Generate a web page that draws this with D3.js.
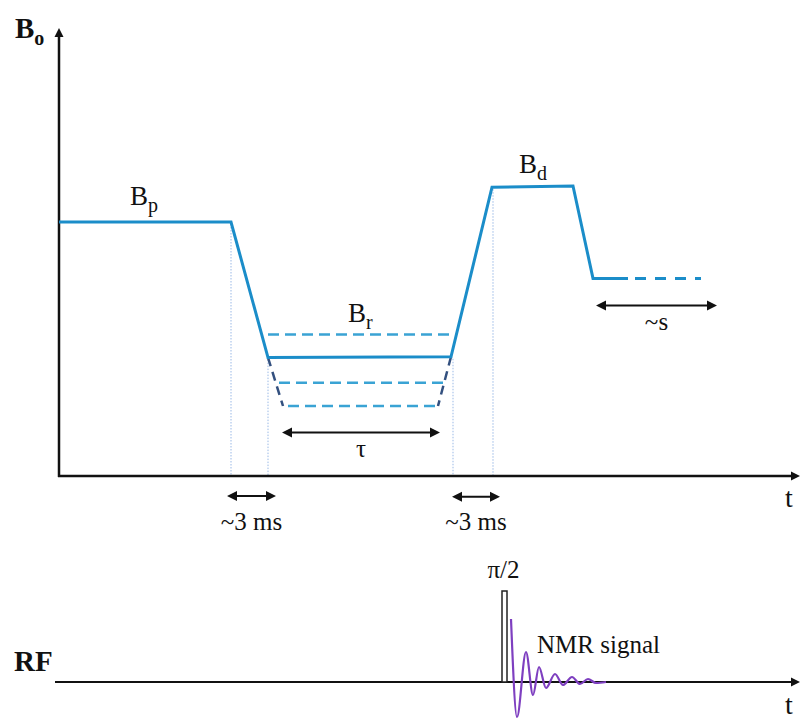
<!DOCTYPE html>
<html><head><meta charset="utf-8">
<script src="https://cdn.jsdelivr.net/npm/d3@7"></script>
<style>html,body{margin:0;padding:0;background:#fff}svg{display:block}</style>
</head><body>
<script>
// ---------- data ----------
const fieldTime  = [0, 17.2, 20.9, 39.2, 43.3, 51.4, 53.4, 56.9];
const fieldValue = [63.5, 63.5, 29.6, 29.8, 72.2, 72.5, 49.4, 49.4];
const tailTime   = [56.9, 64.2];
const tailValue  = [49.4, 49.4];
const brAltLevels = [35.4, 23.3, 17.5];
const brAltStart  = [20.9, 22.0, 22.9];
const brAltEnd    = [39.6, 38.6, 37.8];
const slantLeftTime = [20.9, 22.4], slantLeftValue = [29.6, 17.5];
const slantRightTime = [39.2, 37.9], slantRightValue = [29.8, 17.5];
const markerTimes  = [17.2, 20.9, 39.4, 43.4];
const markerLevels = [63.5, 29.6, 29.8, 72.2];
const spanLabels = ["τ", "~3 ms", "~3 ms", "~s"];
const spanFrom   = [22.3, 16.8, 39.3, 53.7];
const spanTo     = [38.1, 21.7, 44.1, 65.8];
const spanLevel  = [10.9, -5.0, -5.2, 42.6];
const spanTextLevel = [4.7, -13.5, -13.5, 36.5];
const pulseStart = 44.3, pulseEnd = 44.8, pulseAmp = 91;
const sigTime = [45.2, 45.8, 46.7, 47.4, 48.0, 48.7, 49.6, 50.4, 51.3, 52.1, 52.9, 53.7, 54.7];
const sigAmp  = [63, -35, 30, -13, 15, -6, 8, -3, 5, -2, 3, -1, 0];

// ---------- setup ----------
const W = 800, H = 720;
const svg = d3.select("body").append("svg").attr("width", W).attr("height", H);
const x = d3.scaleLinear().domain([0, 74]).range([59, 799]);
const y = d3.scaleLinear().domain([0, 112]).range([476, 28]);
const yRF = d3.scaleLinear().domain([0, 100]).range([682, 582]);
const FONT = "'Liberation Serif', 'DejaVu Serif', serif";
const mainBlue = "#1b8dc9", dashBlue = "#3aa3d4", darkDash = "#33507f", dotBlue = "#9ab9e6", purple = "#7e3fc0";
const line = d3.line();

// vertical dotted markers
markerTimes.forEach((t, i) => {
  svg.append("line").attr("x1", x(t)).attr("x2", x(t))
    .attr("y1", y(markerLevels[i]) + 2).attr("y2", y(0))
    .attr("stroke", dotBlue).attr("stroke-width", 1).attr("stroke-dasharray", "1.5,1.5");
});

// axes upper
svg.append("line").attr("x1", x(0)).attr("x2", x(0)).attr("y1", y(0) + 1).attr("y2", y(112) + 8)
  .attr("stroke", "#111").attr("stroke-width", 2.5);
svg.append("path").attr("d", `M${x(0)},${y(112)} l-4.5,9 l9,0 z`).attr("fill", "#111");
svg.append("line").attr("x1", x(0) - 1).attr("x2", 792).attr("y1", y(0)).attr("y2", y(0))
  .attr("stroke", "#111").attr("stroke-width", 2.5);
svg.append("path").attr("d", `M800,${y(0)} l-9,-4.5 l0,9 z`).attr("fill", "#111");

// alt Br dashed levels
brAltLevels.forEach((b, i) => {
  svg.append("line").attr("x1", x(brAltStart[i])).attr("x2", x(brAltEnd[i]))
    .attr("y1", y(b)).attr("y2", y(b))
    .attr("stroke", dashBlue).attr("stroke-width", 2.5).attr("stroke-dasharray", "11,6");
});
// dark slants
[[slantLeftTime, slantLeftValue], [slantRightTime, slantRightValue]].forEach(([ts, vs]) => {
  svg.append("path").attr("d", line(ts.map((t, i) => [x(t), y(vs[i])])))
    .attr("fill", "none").attr("stroke", darkDash).attr("stroke-width", 2.5).attr("stroke-dasharray", "9,6");
});

// main field line
svg.append("path").attr("d", line(fieldTime.map((t, i) => [x(t), y(fieldValue[i])])))
  .attr("fill", "none").attr("stroke", mainBlue).attr("stroke-width", 3).attr("stroke-linejoin", "miter");
svg.append("path").attr("d", line(tailTime.map((t, i) => [x(t), y(tailValue[i])])))
  .attr("fill", "none").attr("stroke", mainBlue).attr("stroke-width", 3).attr("stroke-dasharray", "0,7,11,9,11,9,11,9,11,9");

// span arrows
spanLabels.forEach((lab, i) => {
  const x1 = x(spanFrom[i]), x2 = x(spanTo[i]), yy = y(spanLevel[i]);
  svg.append("line").attr("x1", x1 + 5).attr("x2", x2 - 5).attr("y1", yy).attr("y2", yy)
    .attr("stroke", "#111").attr("stroke-width", 2);
  svg.append("path").attr("d", `M${x1},${yy} l10,-5 l0,10 z M${x2},${yy} l-10,-5 l0,10 z`).attr("fill", "#111");
  svg.append("text").attr("x", (x1 + x2) / 2).attr("y", y(spanTextLevel[i]))
    .attr("text-anchor", "middle").attr("font-family", FONT).attr("font-size", 25).attr("fill", "#111").text(lab);
});

// B labels
function subLabel(px, py, main, sub, size, subSize, bold) {
  const t = svg.append("text").attr("x", px).attr("y", py).attr("font-family", FONT)
    .attr("font-size", size).attr("fill", "#111").attr("font-weight", bold ? "bold" : "normal");
  t.append("tspan").text(main);
  t.append("tspan").attr("font-size", subSize).attr("dy", 7).text(sub);
}
subLabel(x(7.1), y(fieldValue[0]) - 17, "B", "p", 27, 20, false);
subLabel(x(28.9), y(brAltLevels[0]) - 12, "B", "r", 27, 20, false);
subLabel(x(46.0), y(fieldValue[4]) - 14, "B", "d", 27, 20, false);
subLabel(15, 38, "B", "o", 29, 20, true);

// t labels
svg.append("text").attr("x", 785).attr("y", 507).attr("font-family", FONT).attr("font-size", 28).attr("fill", "#111").text("t");
svg.append("text").attr("x", 785).attr("y", 714).attr("font-family", FONT).attr("font-size", 28).attr("fill", "#111").text("t");

// RF axis
svg.append("line").attr("x1", 55).attr("x2", 792).attr("y1", yRF(0)).attr("y2", yRF(0))
  .attr("stroke", "#111").attr("stroke-width", 2.2);
svg.append("path").attr("d", `M800,${yRF(0)} l-9,-4.5 l0,9 z`).attr("fill", "#111");
svg.append("text").attr("x", 14).attr("y", 671).attr("font-family", FONT).attr("font-size", 29)
  .attr("font-weight", "bold").attr("fill", "#111").text("RF");

// pulse
svg.append("rect").attr("x", x(pulseStart)).attr("y", yRF(pulseAmp))
  .attr("width", x(pulseEnd) - x(pulseStart)).attr("height", yRF(0) - yRF(pulseAmp))
  .attr("fill", "#fff").attr("stroke", "#222").attr("stroke-width", 1.5);
svg.append("text").attr("x", (x(pulseStart) + x(pulseEnd)) / 2 - 1).attr("y", 578).attr("text-anchor", "middle")
  .attr("font-family", FONT).attr("font-size", 25).attr("fill", "#111").text("π/2");

// NMR signal
svg.append("path").attr("d", d3.line().curve(d3.curveMonotoneX)(sigTime.map((t, i) => [x(t), yRF(sigAmp[i])])))
  .attr("fill", "none").attr("stroke", purple).attr("stroke-width", 2.2);
svg.append("text").attr("x", 537).attr("y", 653).attr("font-family", FONT).attr("font-size", 25)
  .attr("fill", "#111").text("NMR signal");
</script>
</body></html>
